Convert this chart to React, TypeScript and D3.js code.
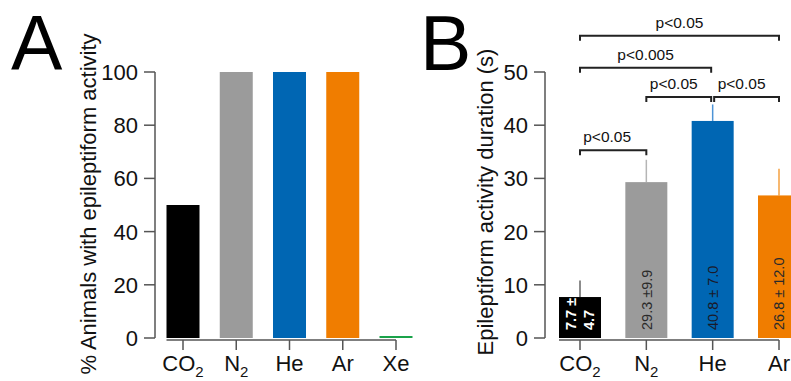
import React from "react";
import * as d3 from "d3";

// Panel A: % animals with epileptiform activity
const catsA = ["CO2", "N2", "He", "Ar", "Xe"];
const valuesA = [50, 100, 100, 100, 0];
const colorsA = ["#000000", "#9b9b9b", "#0066b3", "#f07d00", "#1aa34a"];
const ticksA = [0, 20, 40, 60, 80, 100];

// Panel B: epileptiform activity duration (s)
const catsB = ["CO2", "N2", "He", "Ar"];
const valuesB = [7.7, 29.3, 40.8, 26.8];
const errorsB = [3.1, 4.2, 3.1, 5.0];
const colorsB = ["#000000", "#9b9b9b", "#0066b3", "#f07d00"];
const errColorsB = ["#666666", "#b5b5b5", "#4d94d6", "#f5a040"];
const barLabelsB = [["7.7 ±", "4.7"], ["29.3 ±9.9"], ["40.8 ± 7.0"], ["26.8 ± 12.0"]];
const labelColorsB = ["#ffffff", "#2a2a2a", "#1a1a2a", "#2a2a2a"];
const ticksB = [0, 10, 20, 30, 40, 50];

const brackets = [
  { from: "CO2", to: "Ar", level: 56.8, label: "p<0.05", dx: 0 },
  { from: "CO2", to: "He", level: 50.8, label: "p<0.005", dx: 0 },
  { from: "N2", to: "He", level: 45.3, label: "p<0.05", dx: -5 },
  { from: "He", to: "Ar", level: 45.3, label: "p<0.05", dx: -5 },
  { from: "CO2", to: "N2", level: 35.3, label: "p<0.05", dx: -6 },
];

const font = "'Liberation Sans', Arial, sans-serif";
const axisColor = "#555";

const CatLabel = ({ name, x, y }: { name: string; x: number; y: number }) => {
  const m = name.match(/^([A-Za-z]+)(\d*)$/);
  const base = m ? m[1] : name;
  const sub = m ? m[2] : "";
  return (
    <text x={x} y={y} textAnchor="middle" fontSize={22} fontFamily={font} fill="#111">
      {base}
      {sub && (
        <tspan fontSize={15} dy={6}>
          {sub}
        </tspan>
      )}
    </text>
  );
};

const App = () => {
  const yA = d3.scaleLinear().domain([0, 100]).range([338, 72]);
  const xA = d3.scalePoint<string>().domain(catsA).range([183, 396]);
  const bwA = 33;

  const yB = d3.scaleLinear().domain([0, 50]).range([338, 72]);
  const xB = d3.scalePoint<string>().domain(catsB).range([580, 779]);
  const bwB = 42;

  return (
    <svg
      width={791}
      height={381}
      style={{ position: "absolute", left: 0, top: 0, background: "#fff" }}
    >
      {/* Panel letters */}
      <text x={11} y={70} fontSize={77} fontFamily={font} fill="#000">A</text>
      <text x={420} y={70} fontSize={77} fontFamily={font} fill="#000">B</text>

      {/* ---------- Panel A ---------- */}
      <g>
        {catsA.map((c, i) => {
          const h = Math.max(yA(0) - yA(valuesA[i]), 2);
          return (
            <rect
              key={c}
              x={xA(c)! - bwA / 2}
              y={yA(0) - h}
              width={bwA}
              height={h}
              fill={colorsA[i]}
            />
          );
        })}
        {/* y axis */}
        <line x1={155} x2={155} y1={yA(100)} y2={yA(0)} stroke={axisColor} strokeWidth={1.5} />
        {ticksA.map((t) => (
          <g key={t}>
            <line x1={144} x2={155} y1={yA(t)} y2={yA(t)} stroke={axisColor} strokeWidth={1.5} />
            <text x={138} y={yA(t)} dy="0.36em" textAnchor="end" fontSize={22} fontFamily={font} fill="#111">
              {t}
            </text>
          </g>
        ))}
        {/* x axis */}
        <line
          x1={xA(catsA[0])! - bwA / 2}
          x2={xA(catsA[catsA.length - 1])!}
          y1={340}
          y2={340}
          stroke={axisColor}
          strokeWidth={1.5}
        />
        {catsA.map((c) => (
          <g key={c}>
            <line x1={xA(c)} x2={xA(c)} y1={340} y2={350} stroke={axisColor} strokeWidth={1.5} />
            <CatLabel name={c} x={xA(c)!} y={371} />
          </g>
        ))}
        <text
          transform={`translate(96,204) rotate(-90)`}
          textAnchor="middle"
          fontSize={22}
          fontFamily={font}
          fill="#111"
        >
          % Animals with epileptiform activity
        </text>
      </g>

      {/* ---------- Panel B ---------- */}
      <g>
        {catsB.map((c, i) => {
          const cx = xB(c)!;
          return (
            <g key={c}>
              <line
                x1={cx}
                x2={cx}
                y1={yB(valuesB[i])}
                y2={yB(valuesB[i] + errorsB[i])}
                stroke={errColorsB[i]}
                strokeWidth={1.5}
              />
              <rect
                x={cx - bwB / 2}
                y={yB(valuesB[i])}
                width={bwB}
                height={yB(0) - yB(valuesB[i])}
                fill={colorsB[i]}
              />
              {barLabelsB[i].map((l, j, arr) => (
                <text
                  key={j}
                  transform={`translate(${cx + (j - (arr.length - 1) / 2) * 18},330) rotate(-90)`}
                  dy="0.36em"
                  fontSize={14.5}
                  fontFamily={font}
                  fill={labelColorsB[i]}
                  fontWeight={i === 0 ? "bold" : "normal"}
                >
                  {l}
                </text>
              ))}
            </g>
          );
        })}
        {/* y axis */}
        <line x1={545} x2={545} y1={yB(50)} y2={yB(0)} stroke={axisColor} strokeWidth={1.5} />
        {ticksB.map((t) => (
          <g key={t}>
            <line x1={534} x2={545} y1={yB(t)} y2={yB(t)} stroke={axisColor} strokeWidth={1.5} />
            <text x={528} y={yB(t)} dy="0.36em" textAnchor="end" fontSize={22} fontFamily={font} fill="#111">
              {t}
            </text>
          </g>
        ))}
        {/* x axis */}
        <line
          x1={xB(catsB[0])! - bwB / 2}
          x2={xB(catsB[catsB.length - 1])!}
          y1={340}
          y2={340}
          stroke={axisColor}
          strokeWidth={1.5}
        />
        {catsB.map((c) => (
          <g key={c}>
            <line x1={xB(c)} x2={xB(c)} y1={340} y2={350} stroke={axisColor} strokeWidth={1.5} />
            <CatLabel name={c} x={xB(c)!} y={371} />
          </g>
        ))}
        <text
          transform={`translate(493,202) rotate(-90)`}
          textAnchor="middle"
          fontSize={22}
          fontFamily={font}
          fill="#111"
        >
          Epileptiform activity duration (s)
        </text>

        {/* significance brackets */}
        {brackets.map((b, i) => {
          const x1 = xB(b.from)! + (b.from === "He" ? 1.5 : 0);
          const x2 = xB(b.to)! - (b.to === "He" ? 1.5 : 0);
          const y = yB(b.level);
          return (
            <g key={i}>
              <path
                d={`M${x1},${y + 5}V${y}H${x2}V${y + 5}`}
                fill="none"
                stroke="#222"
                strokeWidth={2}
              />
              <text
                x={(x1 + x2) / 2 + b.dx}
                y={y - 8}
                textAnchor="middle"
                fontSize={15.5}
                fontFamily={font}
                fill="#111"
              >
                {b.label}
              </text>
            </g>
          );
        })}
      </g>
    </svg>
  );
};

export default App;
